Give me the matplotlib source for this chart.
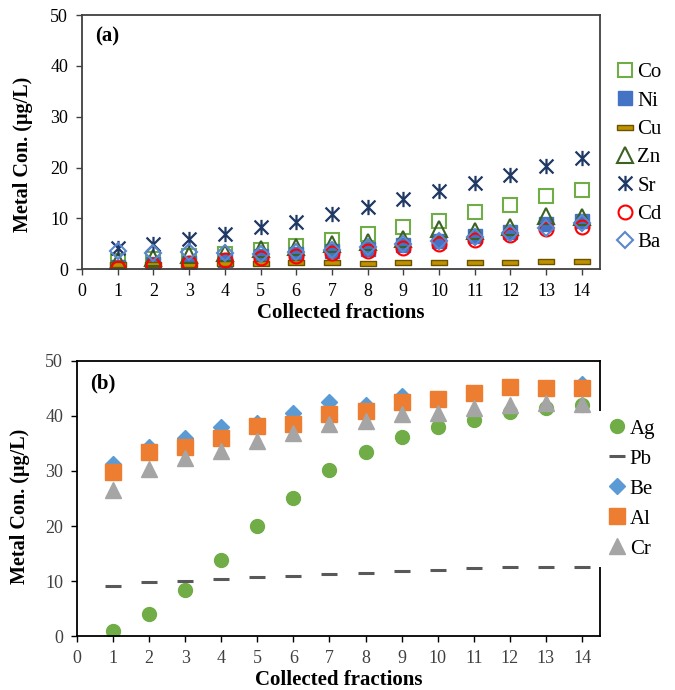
import matplotlib
matplotlib.use("Agg")
import matplotlib.pyplot as plt
from matplotlib.path import Path

plt.rcParams['font.family'] = ['Liberation Serif', 'DejaVu Serif']

fractions = list(range(1, 15))

# panel (a)
co = [1.5, 2.0, 2.5, 3.0, 3.8, 4.5, 5.8, 7.0, 8.3, 9.5, 11.2, 12.6, 14.3, 15.6]
ni = [0.5, 1.0, 1.2, 1.8, 2.5, 3.0, 3.5, 4.0, 4.8, 5.5, 6.5, 7.3, 8.8, 9.5]
cu = [1.0, 1.1, 1.1, 1.2, 1.2, 1.3, 1.3, 1.2, 1.3, 1.3, 1.4, 1.4, 1.5, 1.5]
zn = [1.5, 2.2, 2.7, 3.2, 4.0, 4.3, 5.0, 5.3, 6.0, 7.8, 7.5, 8.2, 10.5, 10.2]
sr = [4.2, 5.0, 6.0, 7.0, 8.2, 9.3, 10.8, 12.3, 13.8, 15.3, 17.0, 18.6, 20.3, 21.9]
cd = [0.3, 0.8, 1.2, 1.7, 2.1, 2.5, 3.2, 3.5, 4.2, 5.0, 5.8, 6.7, 7.8, 8.3]
ba = [3.5, 3.2, 3.3, 3.2, 3.0, 3.3, 3.7, 4.3, 5.0, 5.5, 6.3, 7.2, 8.0, 9.0]

# panel (b)
ag = [1.0, 4.0, 8.3, 13.9, 20.1, 25.1, 30.1, 33.4, 36.2, 38.0, 39.3, 40.8, 41.5, 42.0]
pb = [9.2, 9.8, 10.1, 10.4, 10.7, 10.9, 11.3, 11.4, 11.9, 12.1, 12.3, 12.5, 12.6, 12.6]
be = [31.2, 34.4, 36.0, 37.9, 38.8, 40.5, 42.5, 41.9, 43.6, 43.0, 44.0, 45.2, 45.0, 45.8]
al = [29.8, 33.5, 34.4, 36.0, 38.1, 38.5, 40.4, 40.9, 42.6, 43.0, 44.1, 45.2, 45.1, 45.0]
cr = [26.5, 30.4, 32.4, 33.7, 35.5, 36.9, 38.5, 39.0, 40.4, 40.6, 41.5, 41.9, 42.3, 42.2]

# custom markers
star = Path([(-1, -1), (1, 1), (-1, 1), (1, -1), (0, -1.1), (0, 1.1)],
            [Path.MOVETO, Path.LINETO, Path.MOVETO, Path.LINETO, Path.MOVETO, Path.LINETO])
bar = Path([(-1, -0.3), (1, -0.3), (1, 0.3), (-1, 0.3), (-1, -0.3)],
           [Path.MOVETO, Path.LINETO, Path.LINETO, Path.LINETO, Path.CLOSEPOLY])

fig = plt.figure(figsize=(6.75, 6.9), dpi=100)
ax1 = fig.add_axes([0.1215, 0.610, 0.767, 0.368])
ax2 = fig.add_axes([0.114, 0.078, 0.775, 0.399])

ax1.plot(fractions, co, ls='none', marker='s', ms=10, mfc='none', mec='#70AD47', mew=1.5, label='Co')
ax1.plot(fractions, ni, ls='none', marker='s', ms=10, mfc='#4472C4', mec='#4472C4', label='Ni')
ax1.plot(fractions, cu, ls='none', marker=bar, ms=12, mfc='#BF9000', mec='#6B5300', mew=1.0, label='Cu')
ax1.plot(fractions, zn, ls='none', marker='^', ms=11, mfc='none', mec='#3B6124', mew=1.5, label='Zn')
ax1.plot(fractions, sr, ls='none', marker=star, ms=11, mfc='none', mec='#203864', color='#203864', mew=1.6, label='Sr')
ax1.plot(fractions, cd, ls='none', marker='o', ms=10, mfc='none', mec='#FF0000', mew=1.5, label='Cd')
ax1.plot(fractions, ba, ls='none', marker='D', ms=8, mfc='none', mec='#5B86D0', mew=1.5, label='Ba')

ax2.plot(fractions, ag, ls='none', marker='o', ms=10, mfc='#70AD47', mec='#70AD47', label='Ag')
ax2.plot(fractions, pb, ls='none', marker='_', ms=12, mec='#595959', mew=2.2, label='Pb')
ax2.plot(fractions, be, ls='none', marker='D', ms=8, mfc='#5B9BD5', mec='#5B9BD5', label='Be')
ax2.plot(fractions, al, ls='none', marker='s', ms=11, mfc='#ED7D31', mec='#ED7D31', label='Al')
ax2.plot(fractions, cr, ls='none', marker='^', ms=11, mfc='#A5A5A5', mec='#A5A5A5', label='Cr')

for ax, tag, col in [(ax1, '(a)', '#404040'), (ax2, '(b)', '#000000')]:
    ax.set_xlim(0, 14.5)
    ax.set_ylim(0, 50)
    ax.set_xticks(range(0, 15))
    ax.set_yticks(range(0, 51, 10))
    ax.tick_params(direction='out', length=4, width=1, labelsize=13, color=col, pad=6)
    for s in ax.spines.values():
        s.set_color(col)
        s.set_linewidth(1.3)
    ax.set_xlabel('Collected fractions', fontsize=15, fontweight='bold', labelpad=2)
    ax.set_ylabel('Metal Con. (μg/L)', fontsize=14.5, fontweight='bold')
    ax.text(0.025, 0.955, tag, transform=ax.transAxes, fontsize=15, fontweight='bold', va='top')

ax1.yaxis.set_label_coords(-0.095, 0.45)
ax2.yaxis.set_label_coords(-0.09, 0.47)

for lab in ax2.get_yticklabels() + ax2.get_xticklabels():
    lab.set_color('#404040')

ax1.legend(loc='center left', bbox_to_anchor=(1.0, 0.44), frameon=False, fontsize=15,
           handletextpad=0.0, handlelength=1.2, labelspacing=0.42, borderaxespad=0.2)
leg = ax2.legend(loc='center left', bbox_to_anchor=(0.985, 0.535), frameon=True, fontsize=15,
                 handletextpad=0.0, handlelength=1.2, labelspacing=0.5, borderaxespad=0.2,
                 fancybox=False, edgecolor='none', facecolor='white', framealpha=1.0)

fig.savefig('out.png', dpi=100)
